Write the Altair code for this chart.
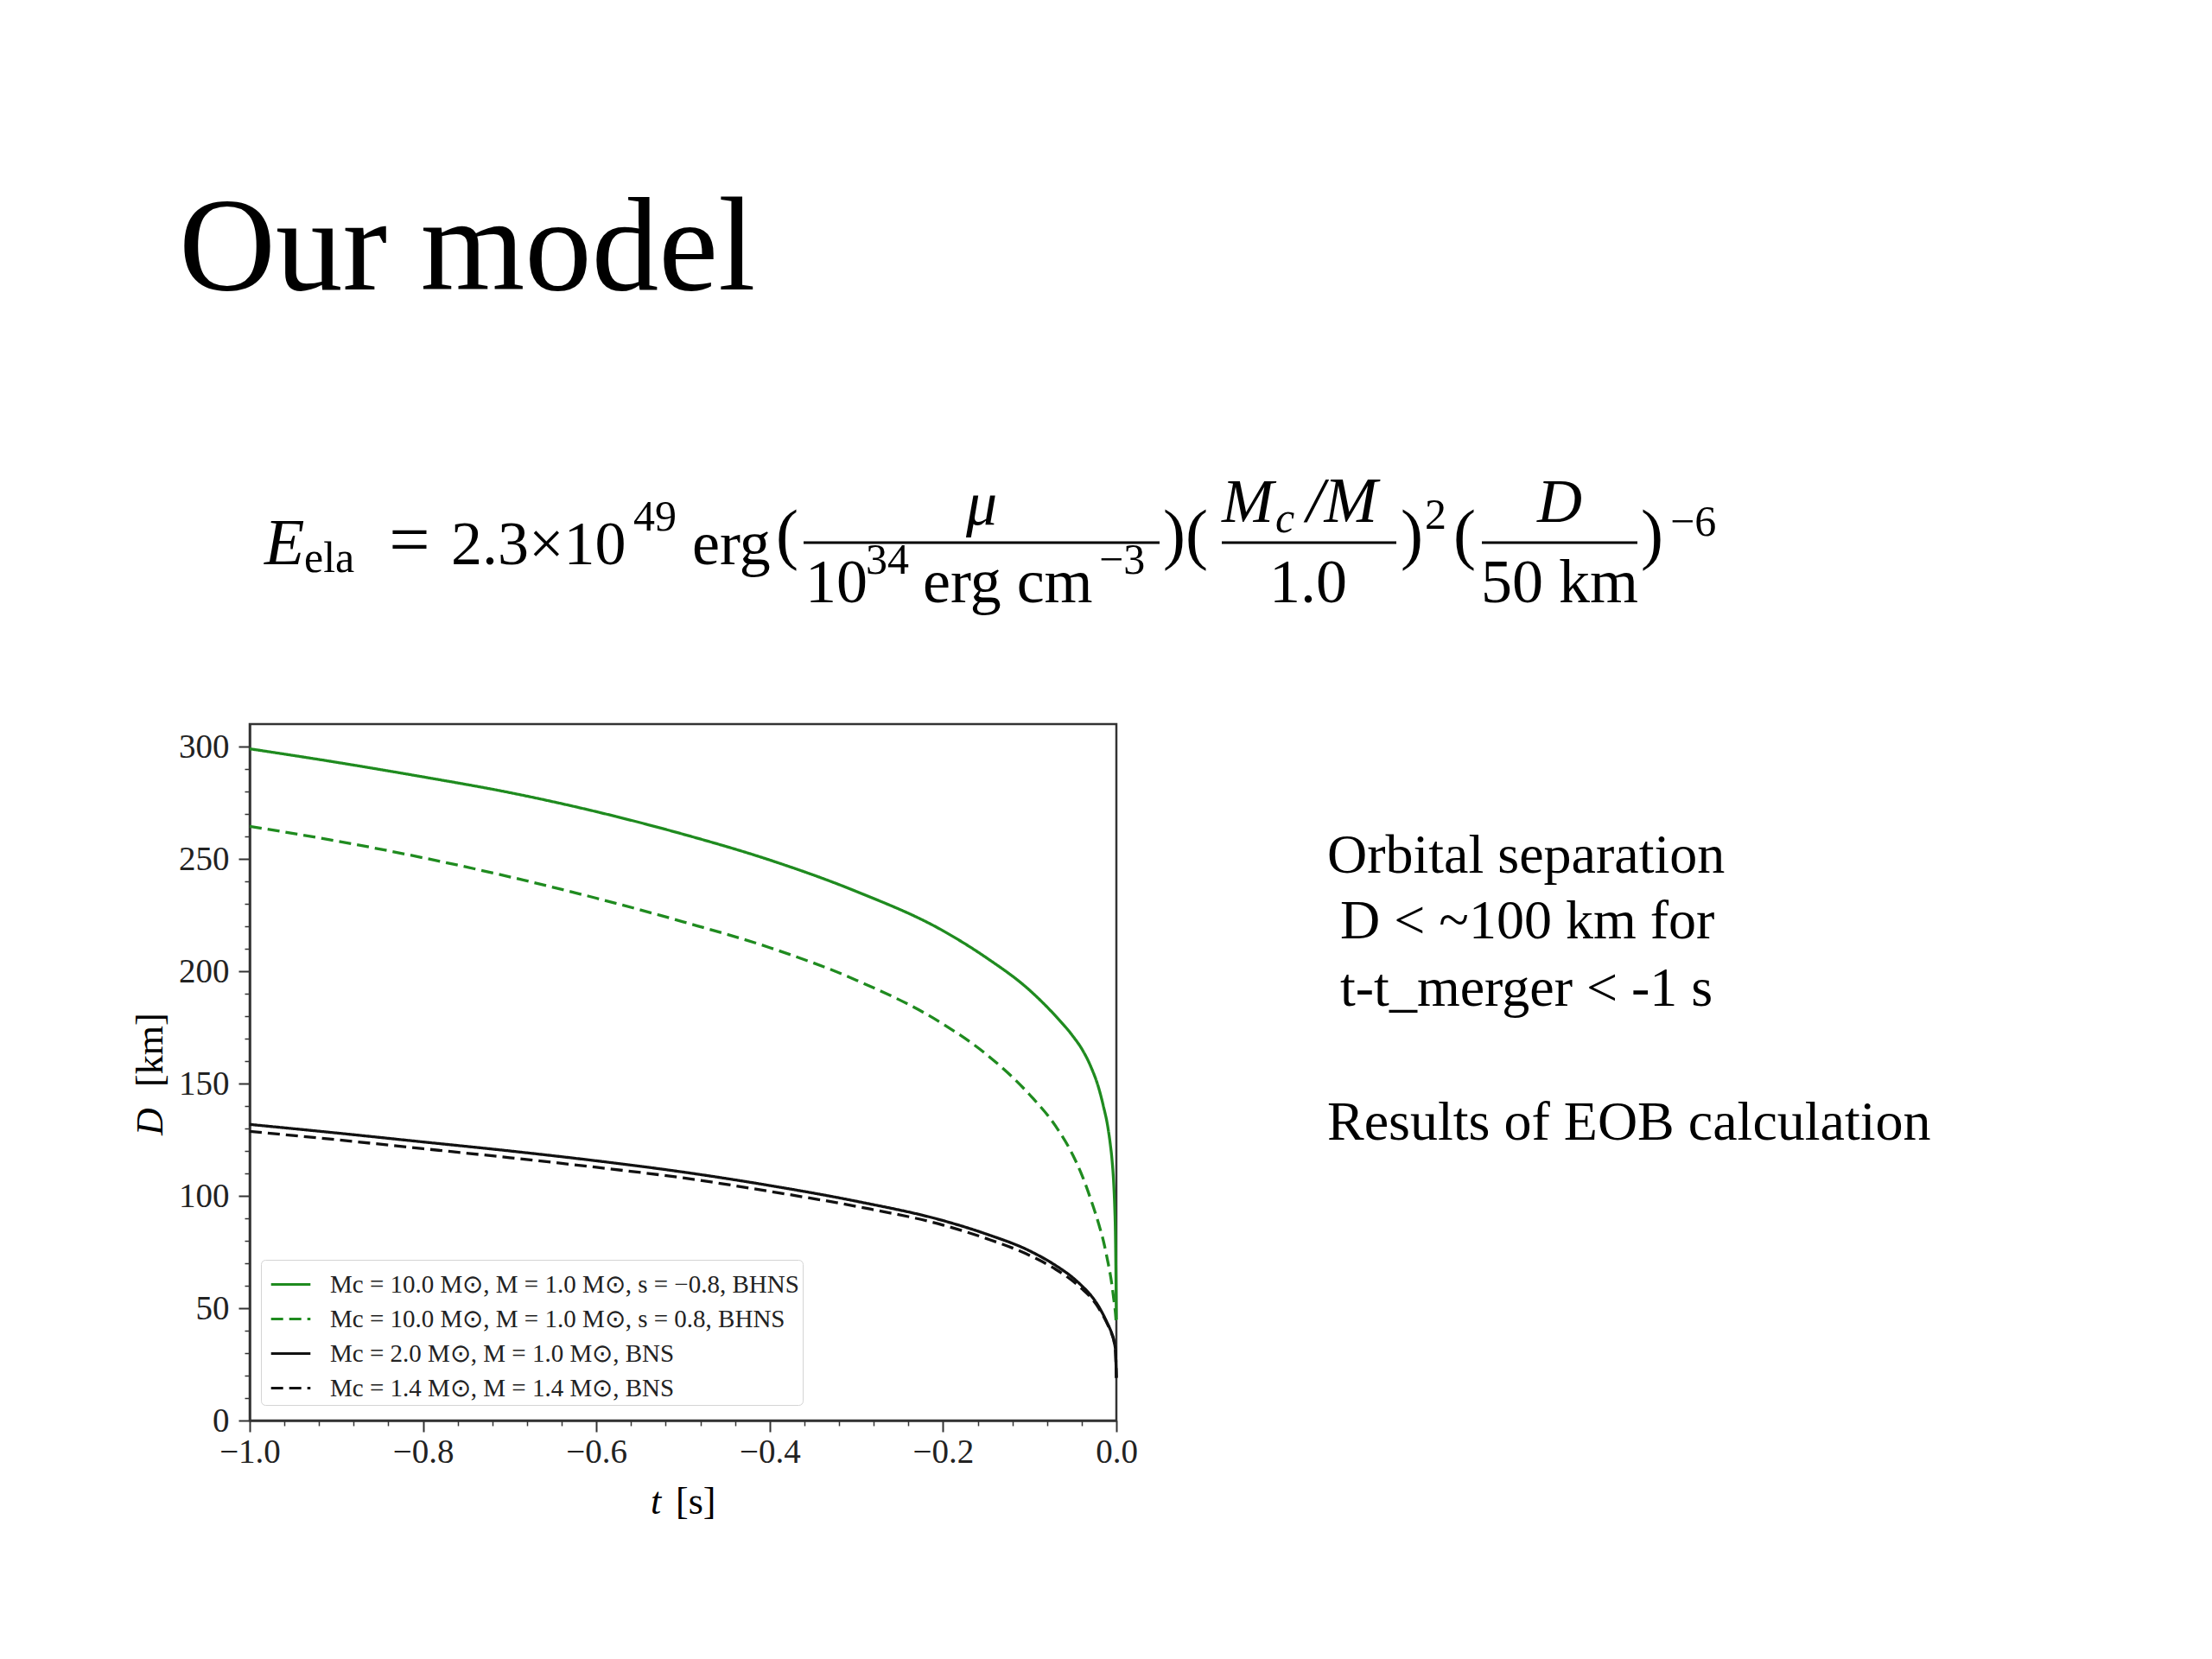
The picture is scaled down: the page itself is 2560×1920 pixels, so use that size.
import altair as alt
import pandas as pd

# ---------------- data ----------------
t_s = [-1.0, -0.9, -0.8, -0.7, -0.6, -0.5, -0.4, -0.3, -0.2, -0.15, -0.1,
       -0.07, -0.05, -0.04, -0.03, -0.02, -0.015, -0.01, -0.007, -0.005,
       -0.003, -0.002, -0.001, 0.0]
green_solid = [299, 293, 286.5, 279.5, 271, 261, 249.5, 235.5, 218, 206, 191.5,
               180, 171, 165.5, 158, 147.5, 140, 131, 123, 116,
               105, 96, 81, 45]
green_dashed = [264.5, 258, 250.5, 242, 232.5, 222, 210.5, 196, 176.5, 163, 145,
                131, 118, 109.5, 99, 87, 80, 71, 65, 60,
                54, 51, 47.5, 42]
black_solid = [131.8, 128, 124, 120, 115.6, 110.6, 104.6, 97.6, 89, 83, 75.5,
               69, 63.5, 60, 56, 50.5, 47, 43, 40.5, 38.5,
               36, 34, 31, 19]
black_dashed = [128.7, 125, 121, 117, 112.7, 108, 102, 95.3, 87, 81, 73.5,
                67.3, 62, 58.7, 55, 49.8, 46.5, 42.7, 40.2, 38.2,
                35.7, 33.7, 30.7, 19]

series_labels = [
    "Mc = 10.0 M⊙, M = 1.0 M⊙, s = −0.8, BHNS",
    "Mc = 10.0 M⊙, M = 1.0 M⊙, s = 0.8, BHNS",
    "Mc = 2.0 M⊙, M = 1.0 M⊙, BNS",
    "Mc = 1.4 M⊙, M = 1.4 M⊙, BNS",
]
x_major = [-1.0, -0.8, -0.6, -0.4, -0.2, 0.0]
x_minor = [-0.96, -0.92, -0.88, -0.84, -0.76, -0.72, -0.68, -0.64, -0.56, -0.52,
           -0.48, -0.44, -0.36, -0.32, -0.28, -0.24, -0.16, -0.12, -0.08, -0.04]
y_major = [0, 50, 100, 150, 200, 250, 300]
y_minor = [10, 20, 30, 40, 60, 70, 80, 90, 110, 120, 130, 140, 160, 170, 180, 190,
           210, 220, 230, 240, 260, 270, 280, 290]

title_text = "Our model"
side_lines = ["Orbital separation", "D < ~100 km for", "t-t_merger < -1 s",
              "Results of EOB calculation"]

# ---------------- layout constants ----------------
OX, OY = 289, 838          # page position of plot-area origin
W, H = 1003, 806
SERIF = "Liberation Serif"
GREEN = "#1f8b1f"
BLACK = "#111111"
AX = "#333333"

rows = []
for lab, vals in zip(series_labels, [green_solid, green_dashed, black_solid, black_dashed]):
    for tt, d in zip(t_s, vals):
        rows.append({"t": tt, "D": d, "series": lab})
df = pd.DataFrame(rows)

xs = alt.Scale(domain=[-1.0, 0.0], nice=False, zero=False)
ys = alt.Scale(domain=[0, 310], nice=False, zero=False)

legend_kw = dict(title=None, orient="none", legendX=13, legendY=620,
                 symbolType="stroke", symbolSize=2080, symbolStrokeWidth=3,
                 symbolOffset=6, labelFont=SERIF, labelFontSize=29,
                 labelColor="#222222", labelLimit=2000, labelOffset=21,
                 rowPadding=0, padding=4, fillColor="white",
                 strokeColor="#d4d4d4", cornerRadius=5)

lines = alt.Chart(df).mark_line(strokeWidth=3.3, interpolate="monotone", strokeCap="butt").encode(
    x=alt.X("t:Q", scale=xs, axis=alt.Axis(
        values=x_major, format=".1f", title=None, grid=False, orient="bottom",
        tickSize=13, tickWidth=2, tickColor=AX, domainColor=AX, domainWidth=2.5,
        labelFont=SERIF, labelFontSize=39, labelColor="#222222", labelPadding=4,
        labelFlush=False, labelOverlap=False)),
    y=alt.Y("D:Q", scale=ys, axis=alt.Axis(
        values=y_major, format="d", title=None, grid=False, orient="left",
        tickSize=13, tickWidth=2, tickColor=AX, domainColor=AX, domainWidth=2.5,
        labelFont=SERIF, labelFontSize=39, labelColor="#222222", labelPadding=11,
        labelFlush=False, labelOverlap=False)),
    color=alt.Color("series:N", scale=alt.Scale(domain=series_labels,
                    range=[GREEN, GREEN, BLACK, BLACK]),
                    legend=alt.Legend(**legend_kw)),
    strokeDash=alt.StrokeDash("series:N", scale=alt.Scale(domain=series_labels,
                              range=[[1, 0], [14, 7], [1, 0], [14, 7]]),
                              legend=alt.Legend(**legend_kw)),
)

minor = alt.Chart(df).mark_point(opacity=0).encode(
    x=alt.X("t:Q", scale=xs, axis=alt.Axis(
        values=x_minor, labels=False, title=None, grid=False, domain=False, orient="bottom",
        tickSize=6, tickWidth=1.5, tickColor=AX)),
    y=alt.Y("D:Q", scale=ys, axis=alt.Axis(
        values=y_minor, labels=False, title=None, grid=False, domain=False, orient="left",
        tickSize=6, tickWidth=1.5, tickColor=AX)),
)


def txt(s, x, y, size, align="left", style="normal", angle=0, font=SERIF, color="black"):
    return alt.Chart(pd.DataFrame({"s": [s]})).mark_text(
        align=align, baseline="alphabetic", fontSize=size, fontStyle=style,
        font=font, color=color, angle=angle).encode(
        x=alt.value(x - OX), y=alt.value(y - OY), text="s:N")


def bar(x1, x2, y):
    return alt.Chart(pd.DataFrame({"a": [0]})).mark_rule(strokeWidth=3, color="black").encode(
        x=alt.value(x1 - OX), x2=alt.value(x2 - OX), y=alt.value(y - OY))


annots = [
    txt(title_text, 207, 335, 155),
    # equation
    txt("E", 306, 653, 76, style="italic"),
    txt("ela", 352, 662, 50),
    txt("=", 474, 653, 84, align="center"),
    txt("2.3×10", 522, 653, 72),
    txt("49", 733, 614, 50),
    txt("erg", 801, 653, 72),
    txt("(", 898, 644, 78),
    bar(930, 1342, 628),
    txt("μ", 1136, 607, 72, align="center", style="italic"),
    txt("10", 932, 697, 72),
    txt("34", 1002, 664, 50),
    txt("erg cm", 1068, 697, 72),
    txt("−3", 1272, 664, 50),
    txt(")(", 1346, 644, 78),
    txt("M", 1414, 604, 72, style="italic"),
    txt("c", 1476, 616, 50, style="italic"),
    txt("/M", 1512, 604, 74, style="italic"),
    bar(1414, 1616, 628),
    txt("1.0", 1514, 697, 72, align="center"),
    txt(")", 1621, 644, 78),
    txt("2", 1649, 612, 50),
    txt("(", 1682, 644, 78),
    bar(1715, 1895, 628),
    txt("D", 1805, 604, 72, align="center", style="italic"),
    txt("50 km", 1805, 697, 72, align="center"),
    txt(")", 1899, 644, 78),
    txt("−6", 1933, 620, 50),
    # side text
    txt(side_lines[0], 1536, 1010, 64),
    txt(side_lines[1], 1551, 1086, 64),
    txt(side_lines[2], 1551, 1164, 64),
    txt(side_lines[3], 1536, 1319, 64),
    # axis titles
    txt("t", 753, 1752, 44, style="italic"),
    txt("[s]", 782, 1752, 44),
    txt("D", 188, 1314, 44, style="italic", angle=270),
    txt("[km]", 188, 1258, 44, angle=270),
]

chart = alt.layer(lines, minor, *annots).resolve_axis(
    x="independent", y="independent"
).properties(
    width=W, height=H,
    autosize=alt.AutoSizeParams(type="none"),
    padding={"left": OX - 8, "top": OY - 8, "right": 2544 - (OX - 8) - W,
             "bottom": 1904 - (OY - 8) - H},
    background="white",
).configure_view(stroke=AX, strokeWidth=2.5)

chart.save("out.html", embed_options={"renderer": "svg", "actions": False})
